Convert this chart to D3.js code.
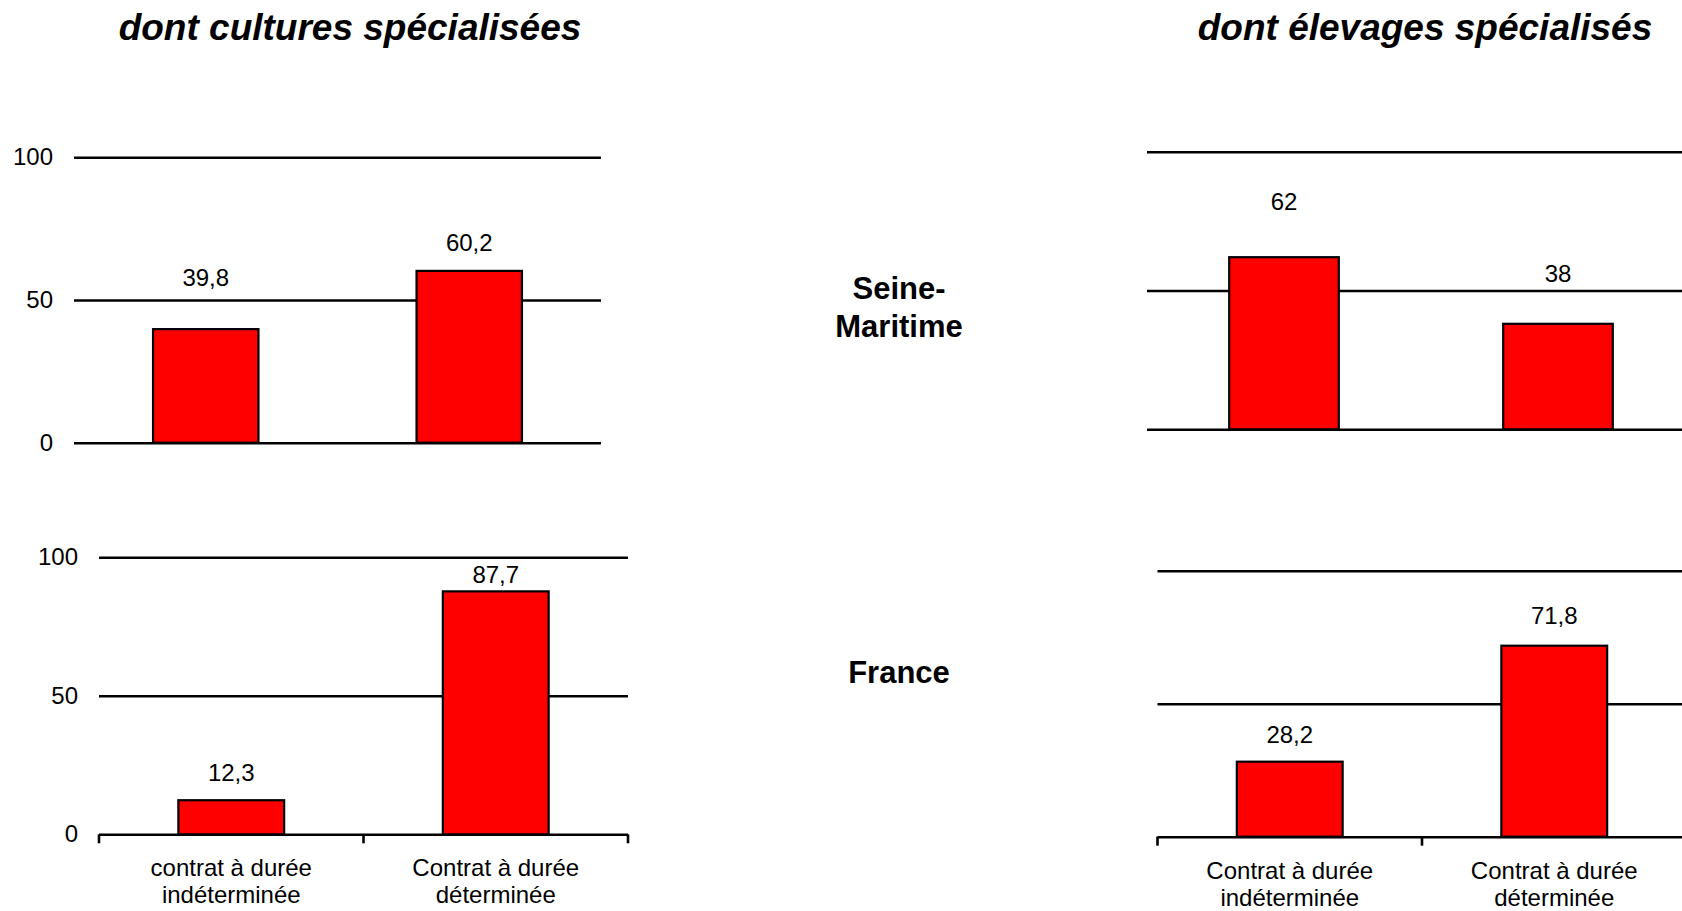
<!DOCTYPE html>
<html>
<head>
<meta charset="utf-8">
<script src="https://cdn.jsdelivr.net/npm/d3@7"></script>
<style>
  html, body { margin: 0; padding: 0; background: #fff; }
  svg { display: block; }
  text { font-family: "Liberation Sans", Arial, sans-serif; fill: #000; }
</style>
</head>
<body>
<svg id="chart" width="1682" height="911"></svg>
<script>
// ---- Data ----
const panelTitles = ["dont cultures spécialisées", "dont élevages spécialisés"];
const regionLabels = [["Seine-", "Maritime"], ["France"]];
const categoryKeys = ["CDI", "CDD"];
const categoryLabelsCultures = [["contrat à durée", "indéterminée"], ["Contrat à durée", "déterminée"]];
const categoryLabelsElevages = [["Contrat à durée", "indéterminée"], ["Contrat à durée", "déterminée"]];
const seineCultures = [39.8, 60.2];
const seineElevages = [62, 38];
const franceCultures = [12.3, 87.7];
const franceElevages = [28.2, 71.8];
const yTickValues = [0, 50, 100];

// ---- Layout ----
const panels = [
  { values: seineCultures, x0: 74, x1: 601, yTop: 157.3, yBase: 442.7, yLabels: true, xTicks: false, labelGap: [43, 20], cats: null },
  { values: seineElevages, x0: 1147, x1: 1695, yTop: 151.7, yBase: 429.3, yLabels: false, xTicks: false, labelGap: [47, 42], cats: null },
  { values: franceCultures, x0: 99, x1: 628, yTop: 557.3, yBase: 834.3, yLabels: true, xTicks: true, labelGap: [19, 8], cats: categoryLabelsCultures },
  { values: franceElevages, x0: 1157.5, x1: 1686.5, yTop: 570.7, yBase: 836.7, yLabels: false, xTicks: true, labelGap: [19, 22], cats: categoryLabelsElevages }
];

const svg = d3.select("#chart");
const fmt = v => String(v).replace(".", ",");

// Titles
const titleX = [350, 1425];
panelTitles.forEach((t, i) => {
  svg.append("text")
    .attr("x", titleX[i]).attr("y", 40)
    .attr("text-anchor", "middle")
    .style("font-size", "37px").style("font-weight", "bold").style("font-style", "italic")
    .text(t);
});

// Region labels
const regionPos = [{ x: 899, y: 299 }, { x: 899, y: 683 }];
regionLabels.forEach((lines, i) => {
  const t = svg.append("text")
    .attr("x", regionPos[i].x).attr("y", regionPos[i].y)
    .attr("text-anchor", "middle")
    .style("font-size", "31px").style("font-weight", "bold");
  lines.forEach((l, j) => {
    t.append("tspan").attr("x", regionPos[i].x).attr("dy", j === 0 ? 0 : 37.5).text(l);
  });
});

panels.forEach(p => {
  const x = d3.scaleBand().domain(categoryKeys).range([p.x0, p.x1])
    .paddingInner(0.6).paddingOuter(0.3);
  const y = d3.scaleLinear().domain([0, 100]).range([p.yBase, p.yTop]);
  const g = svg.append("g");

  // gridlines + y tick labels
  const yAxis = d3.axisLeft(y).tickValues(yTickValues)
    .tickSizeInner(-(p.x1 - p.x0)).tickSizeOuter(0).tickPadding(21)
    .tickFormat(p.yLabels ? d3.format("d") : () => "");
  const ga = g.append("g").attr("transform", `translate(${p.x0},0)`).call(yAxis);
  ga.select(".domain").remove();
  ga.selectAll(".tick line").attr("stroke", "#000").attr("stroke-width", 2.6);
  ga.selectAll(".tick text").attr("fill", "#000")
    .style("font-size", "24px").style("font-family", "'Liberation Sans', Arial, sans-serif");

  // x ticks at band boundaries
  if (p.xTicks) {
    const bounds = d3.range(categoryKeys.length + 1).map(i => p.x0 + i * x.step());
    g.selectAll("line.xt").data(bounds).enter().append("line")
      .attr("x1", d => d).attr("x2", d => d)
      .attr("y1", y(0)).attr("y2", y(0) + 9)
      .attr("stroke", "#000").attr("stroke-width", 2.6);
  }

  // bars
  g.selectAll("rect.bar").data(p.values).enter().append("rect")
    .attr("x", (d, i) => x(categoryKeys[i]))
    .attr("y", d => y(d))
    .attr("width", x.bandwidth())
    .attr("height", d => y(0) - y(d))
    .attr("fill", "#ff0000").attr("stroke", "#000").attr("stroke-width", 2.2);

  // value labels
  g.selectAll("text.val").data(p.values).enter().append("text")
    .attr("x", (d, i) => x(categoryKeys[i]) + x.bandwidth() / 2)
    .attr("y", (d, i) => y(d) - p.labelGap[i])
    .attr("text-anchor", "middle")
    .style("font-size", "24px")
    .text(d => fmt(d));

  // category labels
  if (p.cats) {
    p.cats.forEach((lines, i) => {
      const cx = x(categoryKeys[i]) + x.bandwidth() / 2;
      const t = g.append("text").attr("x", cx).attr("y", y(0) + 42)
        .attr("text-anchor", "middle").style("font-size", "24px");
      lines.forEach((l, j) => {
        t.append("tspan").attr("x", cx).attr("dy", j === 0 ? 0 : 27).text(l);
      });
    });
  }
});
</script>
</body>
</html>
